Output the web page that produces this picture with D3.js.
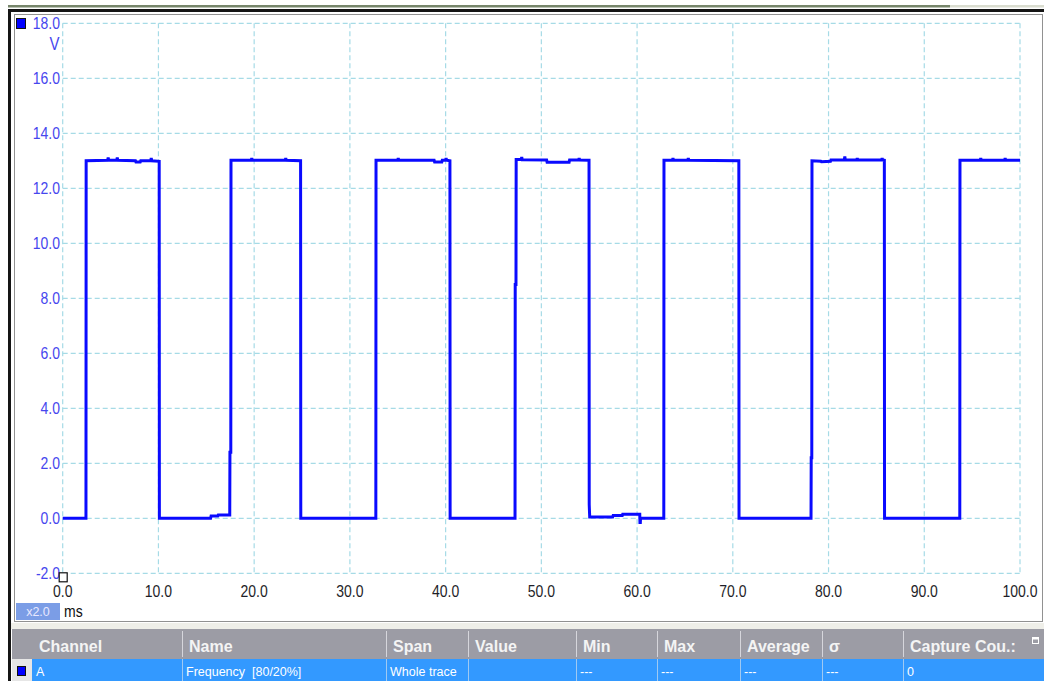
<!DOCTYPE html>
<html>
<head>
<meta charset="utf-8">
<script src="https://cdn.jsdelivr.net/npm/d3@7"></script>
<style>
  html, body { margin: 0; padding: 0; background: #ffffff; }
  svg { display: block; }
  text { font-family: "Liberation Sans", Arial, sans-serif; white-space: pre; }
</style>
</head>
<body>
<svg id="scope" width="1044" height="681"></svg>
<script>
// Axis ticks
const timeTicks = [0, 10, 20, 30, 40, 50, 60, 70, 80, 90, 100];
const voltTicks = [-2, 0, 2, 4, 6, 8, 10, 12, 14, 16, 18];

// Channel A trace: time (ms) and voltage (V) at each corner of the waveform
const traceMs = [
  0, 2.43, 2.45, 4.7, 4.75, 4.8, 5.65, 5.7, 5.75, 7.6, 7.65, 8.1, 8.15, 9.2, 9.25, 9.3, 10.08,
  10.1, 15.45, 15.5, 16.2, 16.25, 17.45, 17.47, 17.56,
  17.58, 19.7, 19.75, 19.8, 23.25, 23.3, 23.35, 24.85,
  24.87, 32.71,
  32.73, 35.0, 35.05, 35.1, 38.8, 38.85, 39.6, 39.65, 40.0, 40.05, 40.1, 40.45,
  40.47, 47.25, 47.27, 47.35,
  47.37, 47.9, 47.95, 48.0, 50.55, 50.6, 52.9, 52.95, 53.9, 53.95, 54.0, 54.98,
  55.0, 55.05, 57.45, 57.5, 58.45, 58.5, 60.28, 60.3, 60.34, 60.36, 62.79,
  62.81, 63.7, 63.75, 63.8, 65.3, 65.35, 65.4, 70.63,
  70.65, 78.17, 78.19, 78.25,
  78.27, 79.2, 79.25, 80.2, 80.25, 81.65, 81.7, 81.75, 82.95, 83.0, 83.05, 85.55, 85.6, 85.65, 85.83,
  85.85, 93.71,
  93.73, 95.85, 95.9, 95.95, 98.4, 98.45, 98.5, 100
];
const traceV = [
  0, 0, 13.0, 13.02, 13.12, 13.02, 13.02, 13.12, 13.02, 13.0, 12.96, 12.96, 13.0, 13.0, 13.1, 13.0, 12.98,
  0, 0, 0.08, 0.08, 0.12, 0.12, 2.4, 2.4,
  13.02, 13.02, 13.1, 13.02, 13.02, 13.1, 13.02, 13.0,
  0, 0,
  13.02, 13.02, 13.1, 13.02, 13.02, 12.96, 12.96, 13.02, 13.02, 13.1, 13.02, 13.0,
  0, 0, 8.5, 8.5,
  13.05, 13.05, 13.14, 13.04, 13.03, 12.95, 12.95, 13.03, 13.03, 13.1, 13.03, 13.02,
  0.5, 0.05, 0.05, 0.1, 0.1, 0.15, 0.15, -0.15, -0.15, 0, 0,
  13.02, 13.02, 13.1, 13.02, 13.02, 13.1, 13.02, 13.0,
  0, 0, 2.2, 2.2,
  13.0, 12.98, 12.97, 12.98, 13.03, 13.03, 13.16, 13.03, 13.03, 13.1, 13.03, 13.03, 13.1, 13.03, 13.02,
  0, 0,
  13.02, 13.02, 13.1, 13.02, 13.02, 13.1, 13.02, 13.02
];

// Measurement table
const tableHeaders = ["Channel", "Name", "Span", "Value", "Min", "Max", "Average", "\u03c3", "Capture Cou.:"];
const tableRow = ["A", "Frequency  [80/20%]", "Whole trace", "", "---", "---", "---", "---", "0"];

const yUnit = "V";
const xUnit = "ms";
const zoomLabel = "x2.0";

// ---- layout ----
const svg = d3.select("#scope");
const plot = { left: 62.7, right: 1020, top: 23.3, bottom: 573.3 };
const x = d3.scaleLinear().domain([0, 100]).range([plot.left, plot.right]);
const y = d3.scaleLinear().domain([-2, 18]).range([plot.bottom, plot.top]);

// window chrome
svg.append("rect").attr("x", 8).attr("y", 5).attr("width", 942).attr("height", 2.5).attr("fill", "#76856a");
svg.append("rect").attr("x", 950).attr("y", 5).attr("width", 94).attr("height", 2.5).attr("fill", "#d9dccf");
svg.append("rect").attr("x", 8).attr("y", 9).attr("width", 1036).attr("height", 3).attr("fill", "#151515");
svg.append("rect").attr("x", 8).attr("y", 9).attr("width", 3).attr("height", 672).attr("fill", "#151515");
// dotted panel border
svg.append("rect").attr("x", 14.5).attr("y", 14.5).attr("width", 1028).attr("height", 607)
  .attr("fill", "none").attr("stroke", "#222").attr("stroke-width", 1).attr("stroke-dasharray", "1,1");

// grid
const grid = svg.append("g").attr("stroke", "#a6dbe6").attr("stroke-width", 1.2).attr("stroke-dasharray", "5,3");
grid.selectAll("line.v").data(timeTicks).join("line")
  .attr("x1", d => x(d)).attr("x2", d => x(d)).attr("y1", plot.top).attr("y2", plot.bottom);
grid.selectAll("line.h").data(voltTicks).join("line")
  .attr("y1", d => y(d)).attr("y2", d => y(d)).attr("x1", plot.left).attr("x2", plot.right);

// y-axis labels
const yLab = svg.append("g").attr("fill", "#4646ee").attr("font-size", 14).attr("text-anchor", "end");
yLab.selectAll("text").data(voltTicks).join("text")
  .attr("transform", d => `translate(60,${y(d) + 5.8}) scale(1,1.18)`)
  .text(d => d.toFixed(1));
yLab.append("text").attr("font-size", 15)
  .attr("transform", `translate(59.5,${y(18) + 26.7}) scale(1,1.22)`).text(yUnit);

// x-axis labels
const xLab = svg.append("g").attr("fill", "#1e1e28").attr("font-size", 14).attr("text-anchor", "middle");
xLab.selectAll("text").data(timeTicks).join("text")
  .attr("transform", d => `translate(${x(d)},${597}) scale(1,1.18)`)
  .text(d => d.toFixed(1));

// channel marker
svg.append("rect").attr("x", 16.5).attr("y", 18.5).attr("width", 9).attr("height", 10)
  .attr("fill", "#0000ff").attr("stroke", "#111").attr("stroke-width", 1);

// trace
const line = d3.line().x(i => x(traceMs[i])).y(i => y(traceV[i]));
svg.append("path").datum(d3.range(traceMs.length))
  .attr("d", line).attr("fill", "none").attr("stroke", "#0a0aff").attr("stroke-width", 3)
  .attr("stroke-linejoin", "miter");

// origin cursor
svg.append("rect").attr("x", x(0) - 3.5).attr("y", y(-2) - 0.5).attr("width", 8).attr("height", 9)
  .attr("fill", "#fff").attr("stroke", "#111").attr("stroke-width", 1.2);

// zoom factor box and unit
svg.append("rect").attr("x", 16).attr("y", 603).attr("width", 44).attr("height", 17).attr("fill", "#7b9de6");
svg.append("text").attr("x", 38).attr("y", 616).attr("text-anchor", "middle").attr("font-size", 12.5)
  .attr("fill", "#e8e8ff").text(zoomLabel);
svg.append("text").attr("transform", "translate(64,617) scale(1,1.15)").attr("font-size", 14)
  .attr("fill", "#111").text(xUnit);

// table
const colX = [32, 182, 386, 468, 576, 657, 740, 822, 903];
svg.append("rect").attr("x", 11).attr("y", 623).attr("width", 1033).attr("height", 6).attr("fill", "#efefe9");
svg.append("rect").attr("x", 12).attr("y", 629).attr("width", 1032).attr("height", 30).attr("fill", "#9c9ca5");
svg.append("rect").attr("x", 12).attr("y", 659).attr("width", 20).attr("height", 22).attr("fill", "#e6e6e6");
svg.append("rect").attr("x", 32).attr("y", 659).attr("width", 1012).attr("height", 22).attr("fill", "#3399ff");
svg.append("rect").attr("x", 17.5).attr("y", 666.5).attr("width", 8).attr("height", 9)
  .attr("fill", "#0000ff").attr("stroke", "#111").attr("stroke-width", 1);

const head = svg.append("g");
head.selectAll("line").data(colX.slice(1)).join("line")
  .attr("x1", d => d + 0.5).attr("x2", d => d + 0.5).attr("y1", 631).attr("y2", 657)
  .attr("stroke", "#d6d6dc").attr("stroke-width", 1);
head.selectAll("text").data(tableHeaders).join("text")
  .attr("x", (d, i) => colX[i] + 7).attr("y", 652)
  .attr("font-size", 16).attr("font-weight", "bold").attr("fill", "#f4f4f4")
  .text(d => d);

const row = svg.append("g");
row.selectAll("line").data(colX.slice(1)).join("line")
  .attr("x1", d => d + 0.5).attr("x2", d => d + 0.5).attr("y1", 659).attr("y2", 681)
  .attr("stroke", "#9fc9f2").attr("stroke-width", 1);
row.selectAll("text").data(tableRow).join("text")
  .attr("x", (d, i) => colX[i] + 4).attr("y", 676)
  .attr("font-size", 12.5).attr("fill", "#ffffff")
  .text(d => d);

// header corner icon
svg.append("rect").attr("x", 1032.5).attr("y", 637.5).attr("width", 6).attr("height", 6)
  .attr("fill", "none").attr("stroke", "#ffffff").attr("stroke-width", 1);
svg.append("rect").attr("x", 1032.5).attr("y", 637.5).attr("width", 6).attr("height", 2).attr("fill", "#ffffff");
</script>
</body>
</html>
